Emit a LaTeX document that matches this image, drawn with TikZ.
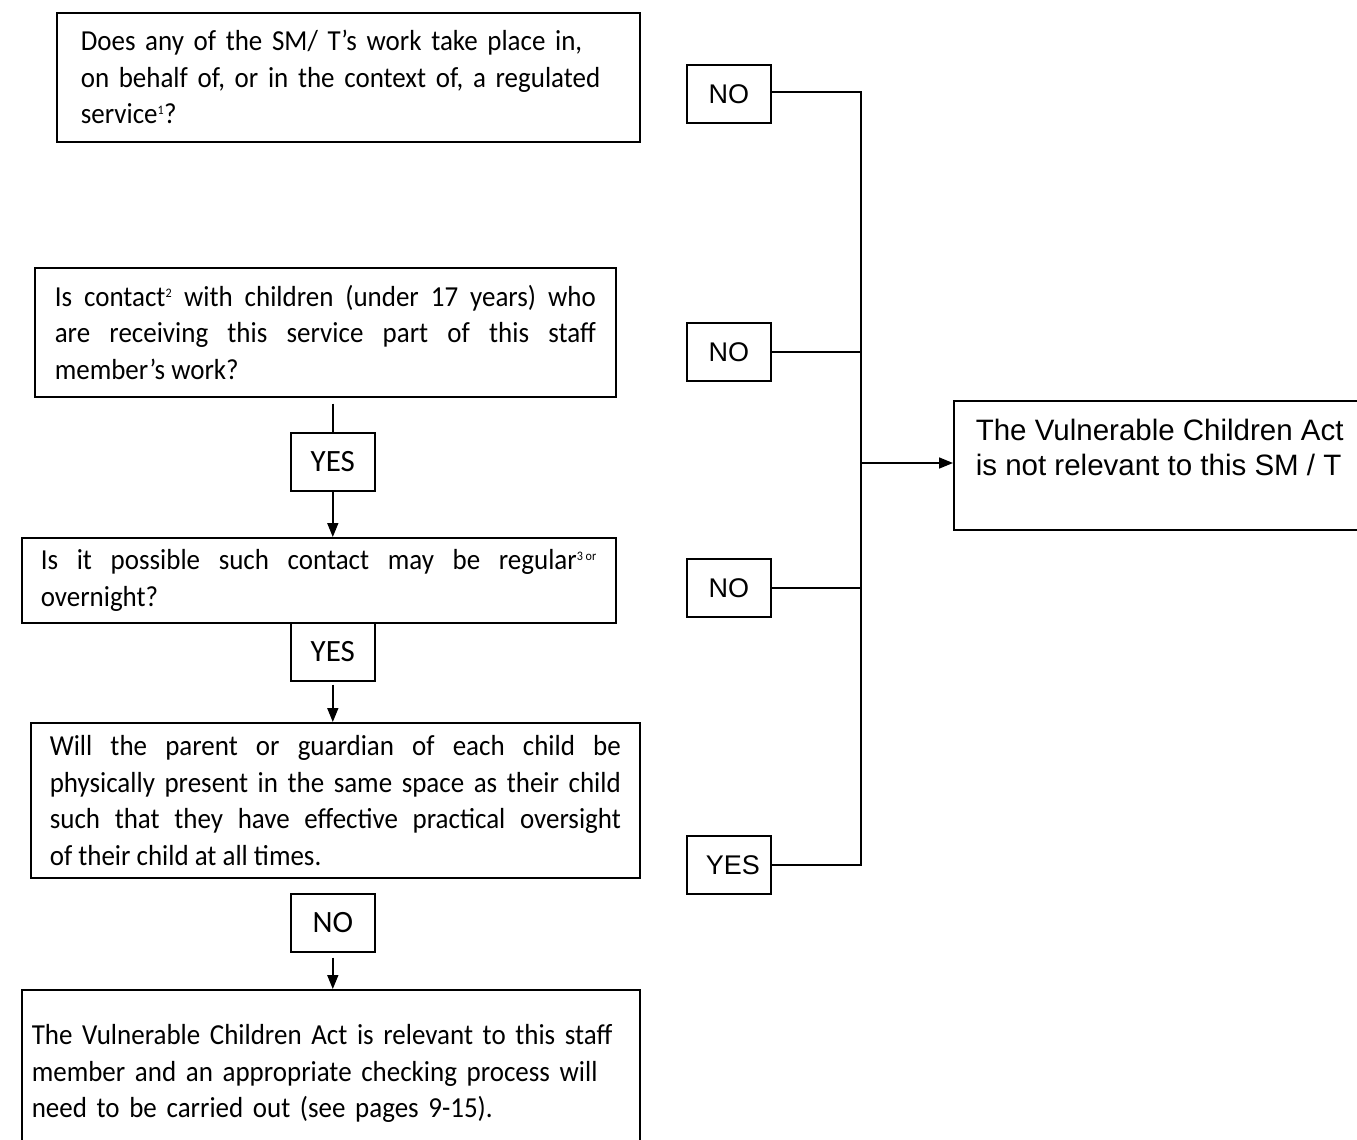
\documentclass[tikz,border=0pt]{standalone}
\usepackage{fontspec}
\setmainfont{Carlito}
\newfontfamily\narrowf{Carlito}[FakeStretch=0.93]
\newfontfamily\arialf{Liberation Sans}
\usetikzlibrary{arrows.meta}
\newcommand{\smallsup}[1]{\textsuperscript{\fontsize{13}{13}\selectfont #1}}
\begin{document}
\begin{tikzpicture}[x=1pt,y=-1pt,line width=1.6pt,
  qbox/.style={draw,rectangle,anchor=north west,inner ysep=0pt,
    font=\narrowf\fontsize{29}{36.5}\selectfont},
  lab/.style={draw,rectangle,anchor=north west,minimum width=84pt,minimum height=58pt,inner sep=0pt,
    font=\fontsize{31}{34}\selectfont},
  rlab/.style={lab,font=\arialf\fontsize{27}{30}\selectfont},
  arr/.style={-{Triangle[length=14pt,width=11pt]},line width=1.6pt}
]
\useasboundingbox[fill=white] (0,0) rectangle (1357,1140);

% left column
\node[qbox,minimum width=583pt,minimum height=129pt,inner xsep=24pt,text width=535pt,align=left] (q1) at (56,12)
  {Does any of the SM/ T’s work take place in,\\on behalf of, or in the context of, a regulated\\service\smallsup{1}?};

\node[qbox,minimum width=581pt,minimum height=129pt,inner xsep=20pt,text width=541pt,align=justify] (q2) at (34,267)
  {Is contact\smallsup{2} with children (under 17 years) who\linebreak are receiving this service part of this staff\linebreak member’s work?};

\node[lab] (y1) at (290,432) {YES};

\node[qbox,minimum width=594pt,minimum height=85pt,inner xsep=19pt,text width=556pt,align=justify] (q3) at (21,537)
  {Is it possible such contact may be regular\smallsup{3 or}\linebreak overnight?};

\node[lab] (y2) at (290,622) {YES};

\node[qbox,minimum width=609pt,minimum height=155pt,inner xsep=19pt,text width=571pt,align=justify] (q4) at (30,722)
  {Will the parent or guardian of each child be\linebreak physically present in the same space as their child\linebreak such that they have effective practical oversight\linebreak of their child at all times.};

\node[lab] (n4) at (290,893) {NO};

\node[qbox,minimum width=618pt,minimum height=168pt,inner xsep=10pt,text width=598pt,align=left] (q5) at (21,989)
  {The Vulnerable Children Act is relevant to this staff\\member and an appropriate checking process will\\need to be carried out (see pages 9-15).};

% right column
\node[rlab] (r1) at (686,64) {NO};
\node[rlab] (r2) at (686,322) {NO};
\node[rlab] (r3) at (686,558) {NO};
\node[rlab] (r4) at (686,835) {\hspace*{8pt}YES};

\node[draw,rectangle,anchor=north west,minimum width=430pt,minimum height=129pt,inner sep=0pt] (res) at (953,400) {};
\node[anchor=north west,inner sep=0pt,align=left,font=\arialf\fontsize{29.5}{35}\selectfont] (restext) at (975,418)
  {The Vulnerable Children Act\\is not relevant to this SM / T};

\coordinate (bus) at (861,463);

% connectors, left
\draw[shorten <=6pt] (y1.north |- q2.south) -- (y1.north);
\draw[arr] (y1.south) -- (y1.south |- q3.north);
\draw[arr,shorten <=3pt] (y2.south) -- (y2.south |- q4.north);
\draw[arr,shorten <=5pt] (n4.south) -- (n4.south |- q5.north);

% connectors, right
\draw ([yshift=2pt]r1.east) -- ([yshift=2pt]r1.east -| bus) -- (r4.east -| bus) -- (r4.east);
\draw (r2.east) -- (r2.east -| bus);
\draw (r3.east) -- (r3.east -| bus);
\draw[arr] (bus) -- (bus -| res.west);
\end{tikzpicture}
\end{document}
